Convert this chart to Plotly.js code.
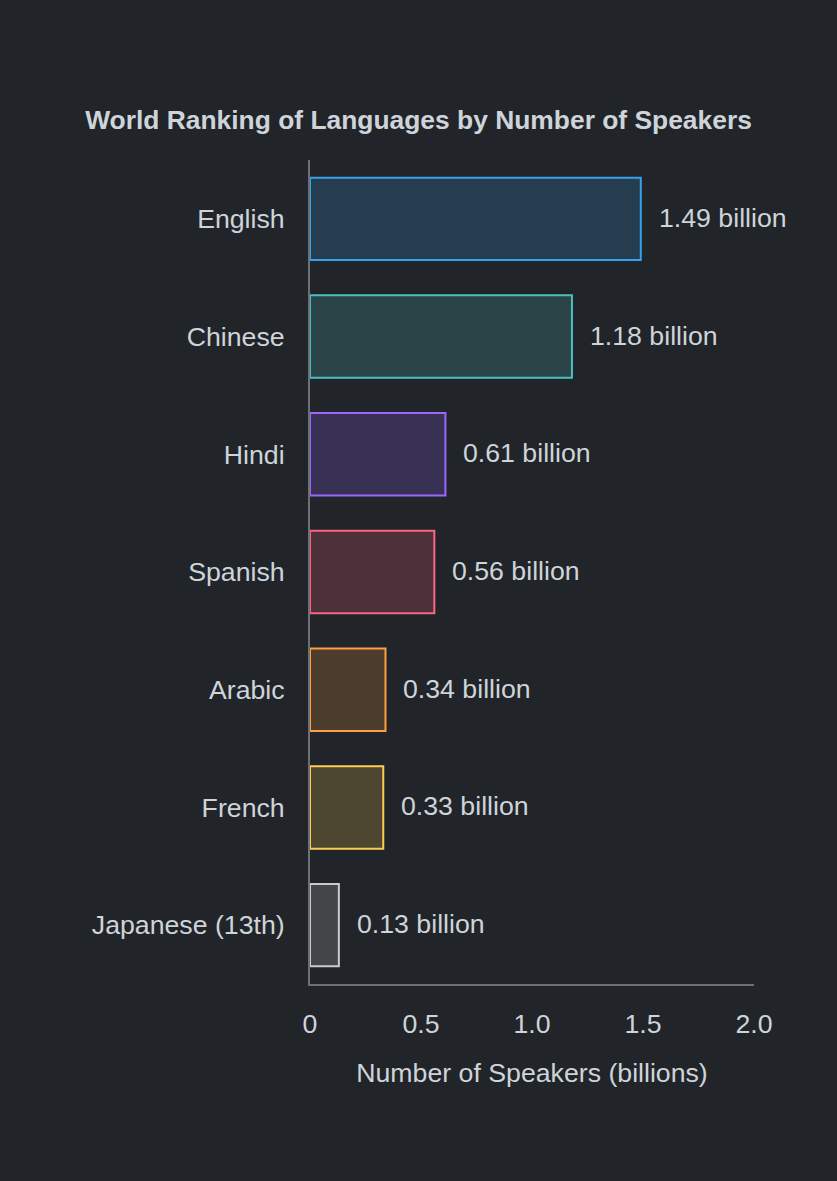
<!DOCTYPE html>
<html>
<head>
<meta charset="utf-8">
<script src="https://cdn.plot.ly/plotly-3.0.1.min.js"></script>
<style>
  html, body { margin: 0; padding: 0; background: #212529; }
  #chart { width: 837px; height: 1181px; }
</style>
</head>
<body>
<div id="chart"></div>
<script>
var languages = ['English', 'Chinese', 'Hindi', 'Spanish', 'Arabic', 'French', 'Japanese (13th)'];
var speakers = [1.49, 1.18, 0.61, 0.56, 0.34, 0.33, 0.13]; // billions
var tickVals = [0, 0.5, 1, 1.5, 2];
var tickText = ['0', '0.5', '1.0', '1.5', '2.0'];
var edgeColors = ['#36a2eb', '#4bc0c0', '#9966ff', '#ff6384', '#ff9f40', '#ffcd56', '#c9cbcf'];

var textColor = '#ced4da';
var font = 'Liberation Sans, Arial, sans-serif';
var fontSize = 26.7;

// fill = edge color at low alpha, like the original
var fills = edgeColors.map(function(c){
	var r = parseInt(c.substr(1,2),16), g = parseInt(c.substr(3,2),16), b = parseInt(c.substr(5,2),16);
	return 'rgba(' + r + ',' + g + ',' + b + ',0.2)';
});

var data = [{
	type: 'bar',
	orientation: 'h',
	x: speakers,
	y: languages,
	width: 0.7,
	marker: {color: fills, line: {color: edgeColors, width: 2}},
	hoverinfo: 'none'
}];

// value labels next to each bar end
var notes = speakers.map(function(v, i){
	return {
		x: v, y: languages[i], xref: 'x', yref: 'y',
		text: v.toFixed(2) + ' billion',
		showarrow: false, xanchor: 'left', xshift: 16, yshift: 1,
		font: {family: font, size: fontSize, color: textColor}
	};
});

var layout = {
	width: 837,
	height: 1181,
	paper_bgcolor: '#212529',
	plot_bgcolor: '#212529',
	margin: {l: 310, r: 83, t: 160, b: 197},
	showlegend: false,
	title: {
		text: '<b>World Ranking of Languages by Number of Speakers</b>',
		x: 0.5, xanchor: 'center', y: 1 - 120/1181, yanchor: 'middle',
		font: {family: font, size: 26.4, color: textColor}
	},
	xaxis: {
		range: [0, 2],
		tickvals: tickVals,
		ticktext: tickText,
		showgrid: false,
		zeroline: false,
		showline: true,
		linecolor: '#6c7075',
		linewidth: 2,
		ticks: 'outside',
		ticklen: 15,
		tickcolor: 'rgba(0,0,0,0)',
		tickfont: {family: font, size: fontSize, color: textColor},
		title: {text: 'Number of Speakers (billions)', standoff: 25, font: {family: font, size: fontSize, color: textColor}}
	},
	yaxis: {
		autorange: 'reversed',
		showgrid: false,
		zeroline: false,
		showline: true,
		linecolor: '#6c7075',
		linewidth: 2,
		ticks: 'outside',
		ticklen: 18,
		tickcolor: 'rgba(0,0,0,0)',
		tickfont: {family: font, size: fontSize, color: textColor}
	},
	annotations: notes
};

Plotly.newPlot('chart', data, layout, {displayModeBar: false, staticPlot: true});
</script>
</body>
</html>
